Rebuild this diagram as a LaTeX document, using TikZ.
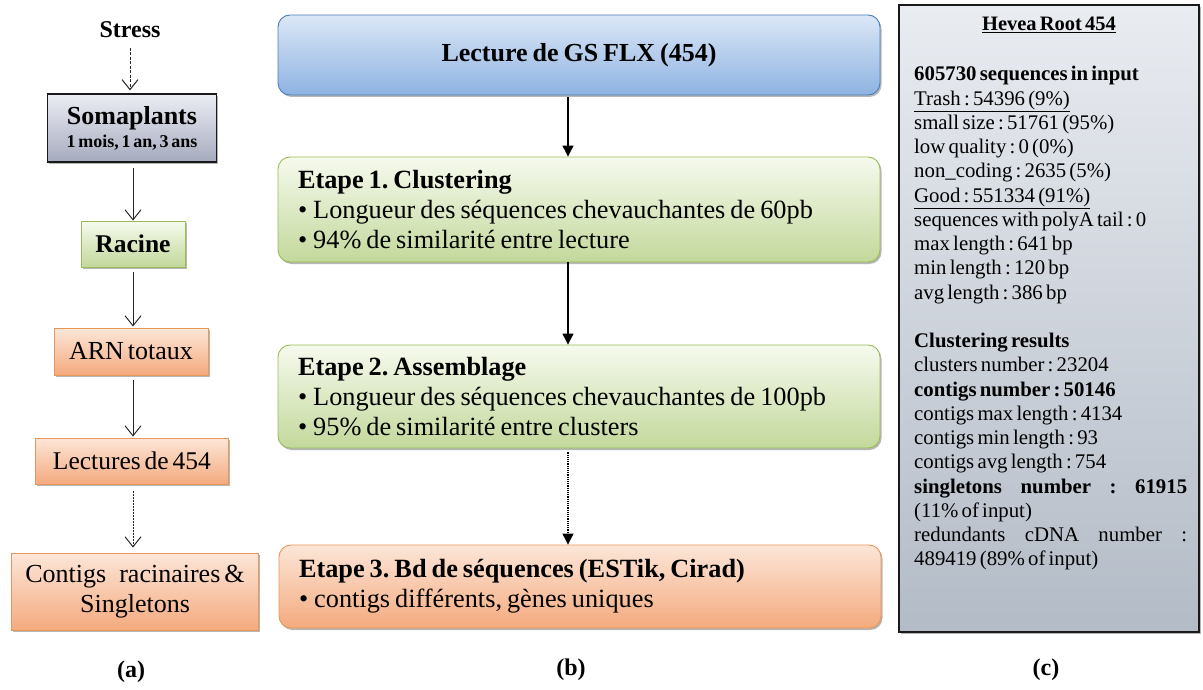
\documentclass[tikz,border=0pt]{standalone}
\usepackage{fontspec}
\setmainfont{Liberation Serif}[WordSpace=0.62]
\usetikzlibrary{arrows.meta,shadows}
\definecolor{bluetop}{HTML}{DCE7F6}
\definecolor{bluebot}{HTML}{8DB3E2}
\definecolor{blueline}{HTML}{4A7EBB}
\definecolor{greentop}{HTML}{F6FAEE}
\definecolor{greenbot}{HTML}{C3D89B}
\definecolor{greenline}{HTML}{9BBB59}
\definecolor{orangetop}{HTML}{FCE6D8}
\definecolor{orangebot}{HTML}{F4AA7E}
\definecolor{orangeline}{HTML}{E8975A}
\definecolor{somatop}{HTML}{ECEEF5}
\definecolor{somabot}{HTML}{A5AABD}
\definecolor{stattop}{HTML}{E9ECF1}
\definecolor{statbot}{HTML}{B3BBC6}
\newcommand\myfs[2]{\fontsize{#1}{#2}\selectfont}
\newcommand\bul{•\hspace{6pt}}
\newcommand\tsp{\spaceskip=0.19em\relax\xspaceskip=0.19em\relax}
\frenchspacing
\begin{document}
\begin{tikzpicture}[x=1pt,y=-1pt,
  shadowed/.style={drop shadow={shadow xshift=1.5pt,shadow yshift=-2pt,opacity=0.4,fill=black!70}},
  leftbox/.style={draw,line width=0.9pt,inner sep=0pt,align=center,shadowed},
  somabox/.style={leftbox,draw=black!90,line width=1.2pt,top color=somatop,bottom color=somabot},
  greenleft/.style={leftbox,draw=greenline,top color=greentop,bottom color=greenbot},
  orangeleft/.style={leftbox,draw=orangeline,top color=orangetop,bottom color=orangebot},
  midbox/.style={draw,line width=0.9pt,rounded corners=12pt,minimum width=602pt,text width=562pt,inner xsep=20pt,inner ysep=0pt,align=left,shadowed,font=\myfs{26.3}{30}},
  bluemid/.style={midbox,draw=blueline,top color=bluetop,bottom color=bluebot,align=center},
  greenmid/.style={midbox,draw=greenline,top color=greentop,bottom color=greenbot},
  orangemid/.style={midbox,draw=orangeline,top color=orangetop,bottom color=orangebot},
  larrow/.style={line width=1pt,black!85,-{Straight Barb[length=10pt,width=16pt,line width=1pt]}},
  marrow/.style={line width=1.2pt,black,-{Triangle[length=11pt,width=11pt]}},
  lbl/.style={font=\myfs{24}{28}\bfseries}
]
\useasboundingbox (0,0) rectangle (1203,690);
\fill[white] (0,0) rectangle (1203,690);

% ---------- (a) ----------
\node[font=\myfs{24}{28}\bfseries] (stress) at (130,30) {Stress};
\node[somabox,minimum width=169pt,minimum height=68pt,font=\bfseries] (soma) at (132,128)
  {\myfs{26}{26}Somaplants\\[4pt]\myfs{18}{20}1 mois, 1 an, 3 ans};
\node[greenleft,minimum width=104pt,minimum height=46pt,font=\myfs{25.5}{28}\bfseries] (racine) at (133,244)
  {Racine};
\node[orangeleft,minimum width=154pt,minimum height=47pt,font=\myfs{26}{28}] (arn) at (131,351.5)
  {ARN totaux};
\node[orangeleft,minimum width=193pt,minimum height=46pt,font=\myfs{25.5}{28}] (lect) at (132,461)
  {Lectures de 454};
\node[orangeleft,minimum width=247pt,minimum height=77pt,font=\myfs{26}{30}] (cont) at (135,591.5)
  {Contigs\enspace racinaires \&\\Singletons};
\node[lbl] (la) at (131,672) {(a)};

\draw[larrow,dash pattern=on 3pt off 1.5pt,shorten <=6pt,shorten >=3pt] (stress.south) -- (stress.south |- soma.north);
\draw[larrow,shorten <=5pt] (soma.south -| racine.north) -- (racine.north);
\draw[larrow,shorten <=5pt,shorten >=1pt] (racine.south) -- (racine.south |- arn.north);
\draw[larrow,shorten <=5pt,shorten >=1pt] (arn.south -| racine.south) -- (racine.south |- lect.north);
\draw[larrow,dash pattern=on 2pt off 1pt,shorten <=7pt,shorten >=5pt] (lect.south -| racine.south) -- (racine.south |- cont.north);

% ---------- (b) ----------
\coordinate (ax) at (568,0);
\node[bluemid,minimum height=80pt,font=\myfs{26}{30}\bfseries] (gs) at (579,55)
  {\tsp Lecture de GS FLX (454)};
\node[greenmid,minimum height=105pt] (e1) at (579,209.5)
  {\tsp\textbf{Etape 1. Clustering}\\
   \bul Longueur des séquences chevauchantes de 60pb\\
   \bul 94\% de similarité entre lecture};
\node[greenmid,minimum height=103pt] (e2) at (579,396.5)
  {\tsp\textbf{Etape 2. Assemblage}\\
   \bul Longueur des séquences chevauchantes de 100pb\\
   \bul 95\% de similarité entre clusters};
\node[orangemid,minimum height=83pt] (e3) at (580,586.5)
  {\tsp\textbf{Etape 3. Bd de séquences (ESTik, Cirad)}\\
   \bul contigs différents, gènes uniques};
\node[lbl] (lb) at (571,670) {(b)};

\draw[marrow,shorten <=2pt] (gs.south -| ax) -- (e1.north -| ax);
\draw[marrow,shorten <=0pt] (e1.south -| ax) -- (e2.north -| ax);
\draw[marrow,densely dotted,shorten <=4pt] (e2.south -| ax) -- (e3.north -| ax);

% ---------- (c) ----------
\node[draw=black!90,line width=1.3pt,top color=stattop,bottom color=statbot,shadowed,
      minimum width=300pt,minimum height=627pt,inner sep=0pt] (stats) at (1049,318.5) {};
\node[font=\myfs{20.5}{24}\bfseries] (title) at (1049,25) {\underline{Hevea Root 454}};
\node[anchor=base west,inner sep=0pt] (stxt) at (914,81) {\parbox[t]{273pt}{\myfs{20.8}{24.25}%
\textbf{605730 sequences in input}\\
\underline{Trash : 54396 (9\%)}\\
small size : 51761 (95\%)\\
low quality : 0 (0\%)\\
non\_coding : 2635 (5\%)\\
\underline{Good : 551334 (91\%)}\\
sequences with polyA tail : 0\\
max length : 641 bp\\
min length : 120 bp\\
avg length : 386 bp\\[24.25pt]
\textbf{Clustering results}\\
clusters number : 23204\\
\textbf{contigs number : 50146}\\
contigs max length : 4134\\
contigs min length : 93\\
contigs avg length : 754\\
\hbox to 273pt{\textbf{singletons}\hfill\textbf{number}\hfill\textbf{:}\hfill\textbf{61915}}\\
(11\% of input)\\
\hbox to 273pt{redundants\hfill cDNA\hfill number\hfill :}\\
489419 (89\% of input)}};
\node[lbl] (lc) at (1046,670) {(c)};
\end{tikzpicture}
\end{document}
